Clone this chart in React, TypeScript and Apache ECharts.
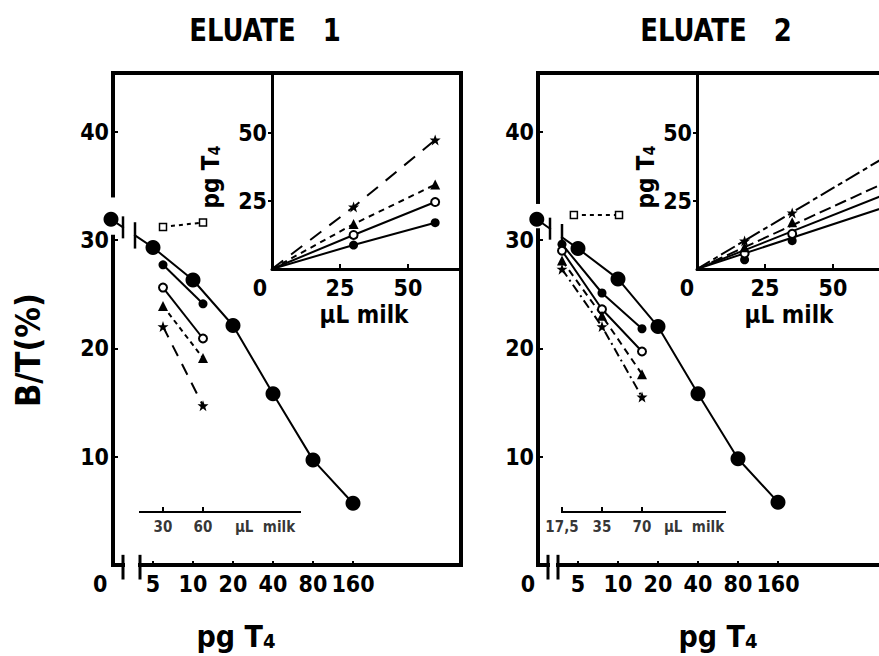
import React, { useEffect, useRef } from 'react';
import * as echarts from 'echarts';

// ---------------- data ----------------
const pgDoses = [0, 5, 10, 20, 40, 80, 160];
const pgTickLabels = ['0', '5', '10', '20', '40', '80', '160'];
const btTicks = [10, 20, 30, 40];

// standard curves, B/T (%)
const std1 = [31.9, 29.3, 26.3, 22.1, 15.8, 9.7, 5.7];
const std2 = [31.9, 29.2, 26.4, 22.0, 15.8, 9.8, 5.8];

// eluate 1 milk dilutions (uL milk) -> B/T (%)
const milkVol1 = [30, 60];
const milkTickLabels1 = ['30', '60'];
const milk1Filled = [27.7, 24.1];
const milk1Open = [25.6, 20.9];
const milk1Tri = [23.9, 19.1];
const milk1Star = [22.0, 14.7];
const milk1SquareVol = [30, 60];
const milk1Square = [31.2, 31.6];

// eluate 2 milk dilutions
const milkVol2 = [17.5, 35, 70];
const milkTickLabels2 = ['17,5', '35', '70'];
const milk2Filled = [29.6, 25.1, 21.8];
const milk2Open = [29.0, 23.6, 19.7];
const milk2Tri = [28.1, 23.0, 17.6];
const milk2Star = [27.3, 22.0, 15.5];
const milk2SquareVol = [21.5, 47];
const milk2Square = [32.3, 32.3];

// insets: pg T4 found vs uL milk
const insetTicks = [0, 25, 50];
const inset1Vol = [0, 30, 60];
const inset1Filled = [0, 8.8, 17.0];
const inset1Open = [0, 12.5, 24.6];
const inset1Tri = [0, 16.5, 31.0];
const inset1Star = [0, 22.8, 47.4];

const inset2Vol = [17.5, 35];
const inset2Filled = [3.4, 10.4];
const inset2Open = [5.7, 12.9];
const inset2Tri = [8.0, 17.2];
const inset2Star = [10.3, 20.6];
const inset2FitVol = [0, 70];
const inset2FitFilled = [0, 23.0];
const inset2FitOpen = [0, 27.7];
const inset2FitTri = [0, 32.1];
const inset2FitStar = [0, 41.6];

// ---------------- styling / layout ----------------
const FONT = '"DejaVu Sans Condensed","Liberation Sans Narrow","DejaVu Sans",sans-serif';
const BLACK = '#000';
const STAR = 'path://M12,0 L15,8.5 L24,8.5 L17,14 L19.5,23 L12,17.5 L4.5,23 L7,14 L0,8.5 L9,8.5 Z';
const U_PX = 40;
const X_MIN = -0.5;
const X_MAX = 8.7;
const Y_MAX = 45.4;
const INSET_X_MAX = 69.5;
const INSET_Y_MAX = 72;

const pgPos = (pg: number, zeroU: number) => (pg === 0 ? zeroU : 1 + Math.log2(pg / 5));

const KIND: any = {
  filled: { symbol: 'circle', size: 9, fill: BLACK, border: BLACK, bw: 0 },
  open: { symbol: 'circle', size: 8, fill: '#fff', border: BLACK, bw: 2 },
  tri: { symbol: 'triangle', size: 10, fill: BLACK, border: BLACK, bw: 0 },
  star: { symbol: STAR, size: 11, fill: BLACK, border: BLACK, bw: 0 },
  square: { symbol: 'rect', size: 7, fill: '#fff', border: BLACK, bw: 1.5 },
  big: { symbol: 'circle', size: 15, fill: BLACK, border: BLACK, bw: 0 },
};

const panels = [
  {
    std: std1,
    zeroDotU: -0.05,
    zeroLabelU: -0.32,
    curveBars: [0.25, 0.55],
    axisBars: [0.25, 0.675],
    axisGap: [30.3, 34.1],
    milkBase: 1.25,
    milkRef: 30,
    milkAxisSpan: [0.675, 4.675],
    milkAxisY: 4.9,
    milkTickVols: milkVol1,
    milkTickLabels: milkTickLabels1,
    milkNameU: 3.8,
    milk: [
      { vols: milkVol1, ys: milk1Filled, kind: 'filled', dash: 'solid' },
      { vols: milkVol1, ys: milk1Open, kind: 'open', dash: 'solid' },
      { vols: milkVol1, ys: milk1Tri, kind: 'tri', dash: [5, 4] },
      { vols: milkVol1, ys: milk1Star, kind: 'star', dash: [12, 9] },
      { vols: milk1SquareVol, ys: milk1Square, kind: 'square', dash: [4, 4] },
    ],
    zeroShift: 24,
  },
  {
    std: std2,
    zeroDotU: -0.03,
    zeroLabelU: -0.25,
    curveBars: [0.3, 0.6],
    axisBars: [0.25, 0.5],
    axisGap: [30.9, 33.5],
    milkBase: 0.6,
    milkRef: 17.5,
    milkAxisSpan: [0.6, 4.675],
    milkAxisY: 4.9,
    milkTickVols: milkVol2,
    milkTickLabels: milkTickLabels2,
    milkNameU: 3.9,
    milk: [
      { vols: milkVol2, ys: milk2Filled, kind: 'filled', dash: 'solid' },
      { vols: milkVol2, ys: milk2Open, kind: 'open', dash: 'solid' },
      { vols: milkVol2, ys: milk2Tri, kind: 'tri', dash: [7, 5] },
      { vols: milkVol2, ys: milk2Star, kind: 'star', dash: [9, 4, 2, 4] },
      { vols: milk2SquareVol, ys: milk2Square, kind: 'square', dash: [4, 4] },
    ],
    zeroShift: 20,
  },
];

const seg = (idx: number, pts: any[], width = 4, type: any = 'solid') => ({
  type: 'line',
  xAxisIndex: idx,
  yAxisIndex: idx,
  data: pts,
  symbol: 'none',
  clip: false,
  silent: true,
  z: 4,
  lineStyle: { color: BLACK, width, type, cap: 'square', join: 'miter' },
});

const marked = (idx: number, pts: any[], kind: string, dash: any, lw = 2, z = 6) => {
  const k = KIND[kind];
  return {
    type: 'line',
    xAxisIndex: idx,
    yAxisIndex: idx,
    data: pts,
    symbol: k.symbol,
    symbolSize: k.size,
    showSymbol: true,
    clip: false,
    silent: true,
    z,
    itemStyle: { color: k.fill, borderColor: k.border, borderWidth: k.bw, opacity: 1 },
    lineStyle: { color: BLACK, width: lw, type: dash },
  };
};

const scatterPts = (idx: number, pts: any[], kind: string, z = 7) => {
  const k = KIND[kind];
  return {
    type: 'scatter',
    xAxisIndex: idx,
    yAxisIndex: idx,
    data: pts,
    symbol: k.symbol,
    symbolSize: k.size,
    clip: false,
    silent: true,
    z,
    itemStyle: { color: k.fill, borderColor: k.border, borderWidth: k.bw, opacity: 1 },
  };
};

const textBase = { fontFamily: FONT, fontWeight: 'bold', color: BLACK };

function buildOption() {
  const series: any[] = [];
  const xAxis: any[] = [];
  const yAxis: any[] = [];

  panels.forEach((p, i) => {
    const labelVals = pgDoses.map((d) => (d === 0 ? p.zeroLabelU : pgPos(d, 0)));
    xAxis.push({
      gridIndex: i,
      type: 'value',
      min: X_MIN,
      max: X_MAX,
      axisLine: { show: false, onZero: false },
      splitLine: { show: false },
      axisTick: {
        show: true,
        inside: true,
        length: 4,
        lineStyle: { color: BLACK, width: 2 },
        customValues: pgDoses.slice(1).map((d) => pgPos(d, 0)),
      },
      axisLabel: {
        show: true,
        customValues: labelVals,
        formatter: (v: number) => {
          const j = labelVals.findIndex((c) => Math.abs(c - v) < 1e-6);
          return j >= 0 ? pgTickLabels[j] : '';
        },
        ...textBase,
        fontSize: 23,
        margin: 7,
      },
    });
    yAxis.push({
      gridIndex: i,
      type: 'value',
      min: 0,
      max: Y_MAX,
      offset: -(0 - X_MIN) * U_PX,
      axisLine: { show: false, onZero: false },
      splitLine: { show: false },
      axisTick: { show: true, inside: true, length: 5, lineStyle: { color: BLACK, width: 2 }, customValues: btTicks },
      axisLabel: { show: true, customValues: btTicks, ...textBase, fontSize: 23, margin: 4 },
    });

    // frame
    const [g0, g1] = p.axisGap;
    const [ab0, ab1] = p.axisBars;
    series.push(seg(i, [[0, Y_MAX], [X_MAX, Y_MAX], [X_MAX, 0]]));
    series.push(seg(i, [[0, Y_MAX], [0, g1]]));
    series.push(seg(i, [[0, g0], [0, 0], [ab0, 0]]));
    series.push(seg(i, [[ab0, -1.2], [ab0, 0.8]], 3));
    series.push(seg(i, [[ab1, -1.2], [ab1, 0.8]], 3));
    series.push(seg(i, [[ab1, 0], [X_MAX, 0]]));

    // standard curve
    const std = p.std;
    const stdPts = pgDoses.slice(1).map((d, j) => [pgPos(d, 0), std[j + 1]]);
    series.push(marked(i, stdPts, 'big', 'solid', 2, 8));
    series.push(scatterPts(i, [[p.zeroDotU, std[0]]], 'big', 8));
    const yAt = (u: number) => std[0] + ((std[1] - std[0]) * (u - p.zeroDotU)) / (1 - p.zeroDotU);
    const [cb0, cb1] = p.curveBars;
    series.push(seg(i, [[p.zeroDotU, std[0]], [cb0, yAt(cb0)]], 2));
    series.push(seg(i, [[cb1, yAt(cb1)], [1, std[1]]], 2));
    series.push(seg(i, [[cb0, yAt(cb0) - 0.9], [cb0, yAt(cb0) + 0.9]], 2.5));
    series.push(seg(i, [[cb1, yAt(cb1) - 1.1], [cb1, yAt(cb1) + 1.1]], 2.5));

    // milk dilution series
    const milkPos = (v: number) => p.milkBase + Math.log2(v / p.milkRef);
    p.milk.forEach((m) => {
      series.push(marked(i, m.vols.map((v, j) => [milkPos(v), m.ys[j]]), m.kind, m.dash, 2, 7));
    });

    // milk volume axis inside the panel
    const my = p.milkAxisY;
    series.push(seg(i, [[p.milkAxisSpan[0], my], [p.milkAxisSpan[1], my]], 2));
    p.milkTickVols.forEach((v) => {
      series.push(seg(i, [[milkPos(v), my], [milkPos(v), my + 0.35]], 2));
    });
    const labelData = p.milkTickVols.map((v, j) => ({ value: [milkPos(v), my], name: p.milkTickLabels[j] }));
    labelData.push({ value: [p.milkNameU, my], name: 'μL  milk' });
    series.push({
      type: 'scatter',
      xAxisIndex: i,
      yAxisIndex: i,
      data: labelData,
      symbol: 'circle',
      symbolSize: 1,
      clip: false,
      silent: true,
      itemStyle: { color: 'rgba(0,0,0,0)' },
      label: {
        show: true,
        position: 'bottom',
        distance: 7,
        formatter: (d: any) => d.name,
        ...textBase,
        fontSize: 15,
      },
    });
  });

  // inset axes
  panels.forEach((p, k) => {
    const gi = k + 2;
    xAxis.push({
      gridIndex: gi,
      type: 'value',
      min: 0,
      max: INSET_X_MAX,
      axisLine: { show: true, onZero: false, lineStyle: { color: BLACK, width: 3 } },
      splitLine: { show: false },
      axisTick: { show: true, inside: true, length: 5, lineStyle: { color: BLACK, width: 2 }, customValues: insetTicks.slice(1) },
      axisLabel: {
        show: true,
        customValues: insetTicks,
        formatter: (v: number) => (v === 0 ? '{z|0}' : String(v)),
        rich: { z: { ...textBase, fontSize: 23, padding: [0, p.zeroShift, 0, 0] } },
        ...textBase,
        fontSize: 23,
        margin: 7,
      },
    });
    yAxis.push({
      gridIndex: gi,
      type: 'value',
      min: 0,
      max: INSET_Y_MAX,
      axisLine: { show: true, onZero: false, lineStyle: { color: BLACK, width: 3 } },
      splitLine: { show: false },
      axisTick: { show: true, inside: false, length: 4, lineStyle: { color: BLACK, width: 2 }, customValues: insetTicks.slice(1) },
      axisLabel: { show: true, customValues: insetTicks.slice(1), ...textBase, fontSize: 23, margin: 5 },
    });
  });

  // inset 1 series
  const ins1 = [
    { ys: inset1Filled, kind: 'filled', dash: 'solid' },
    { ys: inset1Open, kind: 'open', dash: 'solid' },
    { ys: inset1Tri, kind: 'tri', dash: [6, 5] },
    { ys: inset1Star, kind: 'star', dash: [14, 10] },
  ];
  ins1.forEach((s) => {
    const pts = inset1Vol.map((v, j) => (v === 0 ? { value: [v, s.ys[j]], symbol: 'none' } : [v, s.ys[j]]));
    series.push(marked(2, pts, s.kind, s.dash, 2, 6));
  });

  // inset 2 series
  const ins2 = [
    { ys: inset2Filled, fit: inset2FitFilled, kind: 'filled', dash: 'solid' },
    { ys: inset2Open, fit: inset2FitOpen, kind: 'open', dash: 'solid' },
    { ys: inset2Tri, fit: inset2FitTri, kind: 'tri', dash: [10, 7] },
    { ys: inset2Star, fit: inset2FitStar, kind: 'star', dash: [14, 6, 3, 6] },
  ];
  ins2.forEach((s) => {
    series.push(seg(3, inset2FitVol.map((v, j) => [v, s.fit[j]]), 2, s.dash));
    series.push(scatterPts(3, inset2Vol.map((v, j) => [v, s.ys[j]]), s.kind, 7));
  });

  const mkText = (x: number, y: number, text: string, size: number, rotation: number, scaleX = 1, rich?: any) => ({
    type: 'text',
    x,
    y,
    rotation,
    scaleX,
    style: {
      text,
      rich,
      fontFamily: FONT,
      fontWeight: 'bold',
      fontSize: size,
      fill: BLACK,
      align: 'center',
      verticalAlign: 'middle',
      textAlign: 'center',
      textVerticalAlign: 'middle',
    },
  });
  const pgRich = (big: number, small: number) => ({
    m: {
      fontFamily: FONT, fontWeight: 'bold', fontSize: big, fill: BLACK, color: BLACK,
      lineHeight: Math.round(big * 1.2), verticalAlign: 'bottom',
    },
    s: {
      fontFamily: FONT, fontWeight: 'bold', fontSize: small, fill: BLACK, color: BLACK,
      lineHeight: Math.round(small * 0.75), verticalAlign: 'bottom',
    },
  });

  const graphic = [
    mkText(265, 30, 'ELUATE   1', 32, 0, 0.9),
    mkText(716, 30, 'ELUATE   2', 32, 0, 0.9),
    mkText(28, 350, 'B/T(%)', 34, Math.PI / 2),
    mkText(236, 633, '{m|pg T}{s|4}', 30, 0, 1, pgRich(30, 20)),
    mkText(718, 633, '{m|pg T}{s|4}', 30, 0, 1, pgRich(30, 20)),
    mkText(208, 177, '{m|pg T}{s|4}', 24, Math.PI / 2, 1, pgRich(24, 16)),
    mkText(643, 177, '{m|pg T}{s|4}', 24, Math.PI / 2, 1, pgRich(24, 16)),
    mkText(364, 315, 'μL milk', 24, 0),
    mkText(789, 315, 'μL milk', 24, 0),
  ];

  return {
    animation: false,
    backgroundColor: '#fff',
    textStyle: { fontFamily: FONT },
    grid: [
      { left: 93, top: 73, width: 368, height: 492, containLabel: false, outerBoundsMode: 'none' },
      { left: 518, top: 73, width: 368, height: 492, containLabel: false, outerBoundsMode: 'none' },
      { left: 272, top: 73, width: 189, height: 196, containLabel: false, outerBoundsMode: 'none' },
      { left: 697, top: 73, width: 189, height: 196, containLabel: false, outerBoundsMode: 'none' },
    ],
    xAxis,
    yAxis,
    series,
    graphic,
  };
}

export default function App() {
  const ref = useRef<HTMLDivElement>(null);
  useEffect(() => {
    if (!ref.current) return;
    const chart = echarts.init(ref.current, null, { renderer: 'svg' });
    chart.setOption(buildOption() as any);
    return () => chart.dispose();
  }, []);
  return (
    <div
      ref={ref}
      style={{ position: 'absolute', left: 0, top: 0, width: 879, height: 656, background: '#fff' }}
    />
  );
}
